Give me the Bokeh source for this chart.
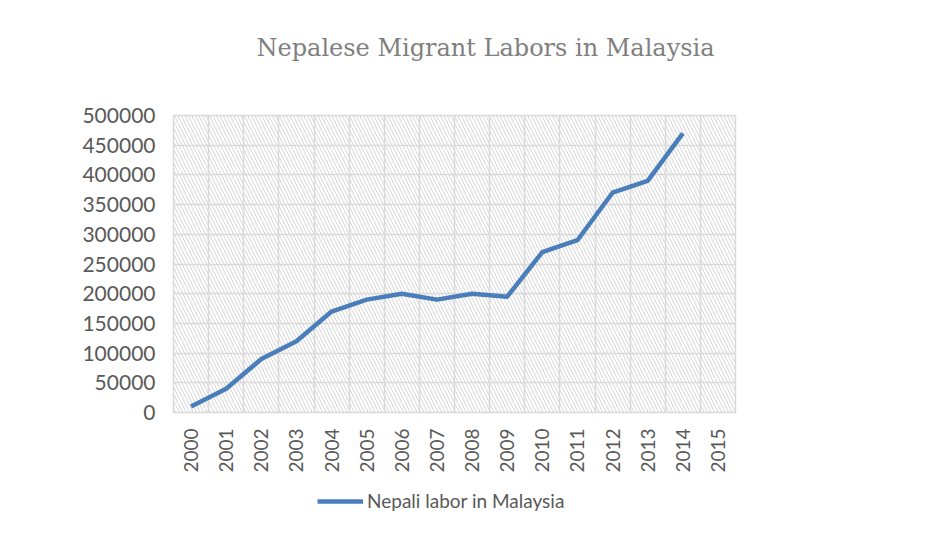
from bokeh.plotting import figure
from bokeh.layouts import column
from bokeh.models import (FixedTicker, NumeralTickFormatter, BoxAnnotation, Legend, LegendItem,
                          Range1d, Label)
from bokeh.embed import file_html
from bokeh.resources import INLINE
import math

years = [2000, 2001, 2002, 2003, 2004, 2005, 2006, 2007, 2008, 2009, 2010, 2011, 2012, 2013, 2014]
all_years = years + [2015]
labors = [10000, 40000, 90000, 120000, 170000, 190000, 200000, 190000, 200000, 195000,
          270000, 290000, 370000, 390000, 470000]
y_ticks = list(range(0, 500001, 50000))
title_text = "Nepalese Migrant Labors in Malaysia"
series_name = "Nepali labor in Malaysia"
LINE_COLOR = "#4a7ebb"

# Title strip
tf = figure(width=940, height=94, output_backend="svg", toolbar_location=None, min_border=0,
            x_range=Range1d(0, 1), y_range=Range1d(0, 1))
tf.axis.visible = False
tf.grid.visible = False
tf.outline_line_color = None
tf.add_layout(Label(x=0.5, y=0.5, x_offset=31, text=title_text, text_align="center",
                    text_baseline="middle", text_font="DejaVu Serif", text_font_size="24px",
                    text_color="#7f7f7f"))

# Main chart
p = figure(width=940, height=381, output_backend="svg", toolbar_location=None,
           x_range=Range1d(all_years[0] - 0.5, all_years[-1] + 0.5),
           y_range=Range1d(0, 500000),
           min_border_left=173, min_border_right=205, min_border_top=21, min_border_bottom=62)

hatch = BoxAnnotation(fill_alpha=0, line_alpha=0, hatch_pattern="\\", hatch_color="#d4d4d4",
                      hatch_scale=7, hatch_weight=1, level="image")
p.add_layout(hatch)

r = p.line(years, labors, line_color=LINE_COLOR, line_width=4.5, line_join="round")

p.xaxis.ticker = FixedTicker(ticks=all_years)
p.xaxis.major_label_orientation = math.pi / 2
p.yaxis.ticker = FixedTicker(ticks=y_ticks)
p.yaxis.formatter = NumeralTickFormatter(format="0")
for ax in (p.xaxis, p.yaxis):
    ax.axis_line_color = None
    ax.major_tick_line_color = None
    ax.minor_tick_line_color = None
    ax.major_label_text_font = "Lato"
    ax.major_label_text_color = "#595959"
p.yaxis.major_label_text_font_size = "21px"
p.xaxis.major_label_text_font_size = "19px"
p.yaxis.major_label_standoff = 12
p.xaxis.major_label_standoff = 10

p.xgrid.ticker = FixedTicker(ticks=[y - 0.5 for y in all_years] + [all_years[-1] + 0.5])
p.ygrid.ticker = FixedTicker(ticks=y_ticks)
p.grid.grid_line_color = "#d9d9d9"
p.grid.grid_line_width = 1.5
p.outline_line_color = "#d9d9d9"
p.outline_line_width = 1.5

# Legend strip below the chart (series drawn out of view so only its legend shows)
lg = figure(width=940, height=50, output_backend="svg", toolbar_location=None,
            min_border=0, y_range=Range1d(-2, -1))
lg.axis.visible = False
lg.grid.visible = False
lg.outline_line_color = None
lr = lg.line(years, labors, line_color=LINE_COLOR, line_width=4.5)
legend = Legend(items=[LegendItem(label=series_name, renderers=[lr])],
                orientation="horizontal", location=(144, 13), border_line_color=None,
                background_fill_alpha=0,
                label_text_font="Lato", label_text_font_size="19px", label_text_color="#595959",
                glyph_width=46, label_standoff=4, padding=0, margin=0)
lg.add_layout(legend)

layout = column(tf, p, lg, spacing=0)
open("out.html", "w").write(file_html(layout, INLINE))
